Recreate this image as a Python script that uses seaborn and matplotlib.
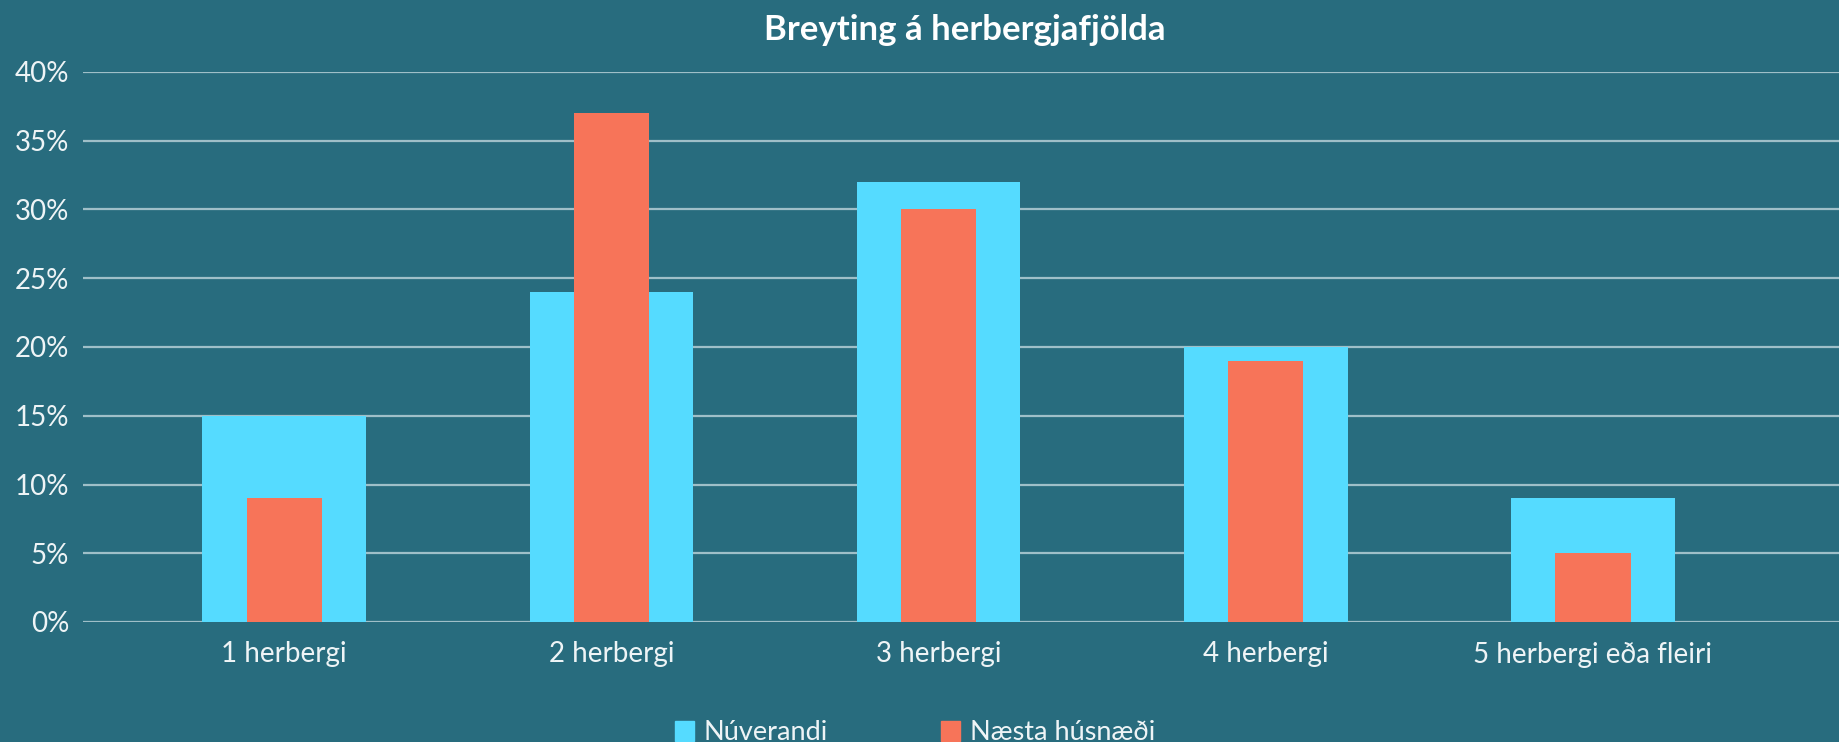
import matplotlib
matplotlib.use("Agg")
import matplotlib.pyplot as plt
import matplotlib.patches as mpatches
import pandas as pd
import seaborn as sns

# data
categories = ["1 herbergi", "2 herbergi", "3 herbergi", "4 herbergi", "5 herbergi eða fleiri"]
nuverandi = [15, 24, 32, 20, 9]
naesta = [9, 37, 30, 19, 5]
y_ticks = [0, 5, 10, 15, 20, 25, 30, 35, 40]

BG = "#286c7e"
CYAN = "#55dbff"
ORANGE = "#f77459"
GRID = "#9fbfc8"
TXT = "#eef4f6"

sns.set_theme(style="white")
plt.rcParams["font.family"] = ["Lato", "DejaVu Sans"]

df_now = pd.DataFrame({"cat": categories, "val": nuverandi})
df_next = pd.DataFrame({"cat": categories, "val": naesta})

fig = plt.figure(figsize=(18.4, 7.42), dpi=100, facecolor=BG)
ax = fig.add_axes([83 / 1840, 120 / 742, 1 - 83 / 1840, 550 / 742])
ax.set_facecolor(BG)

sns.barplot(data=df_now, x="cat", y="val", color=CYAN, width=0.5,
            saturation=1, linewidth=0, ax=ax, zorder=2)
sns.barplot(data=df_next, x="cat", y="val", color=ORANGE, width=0.23,
            saturation=1, linewidth=0, ax=ax, zorder=3)

ax.set_xlim(-0.615, 4.755)
ax.set_ylim(0, 40)
ax.set_yticks(y_ticks)
ax.set_yticklabels([f"{t}%" for t in y_ticks])
ax.yaxis.grid(True, color=GRID, linewidth=1.6, zorder=1)
ax.set_axisbelow(True)
for s in ax.spines.values():
    s.set_visible(False)
ax.tick_params(axis="both", length=0, colors=TXT)
ax.tick_params(axis="y", pad=10, labelsize=20)
ax.tick_params(axis="x", pad=14, labelsize=20)
ax.set_xlabel("")
ax.set_ylabel("")

fig.text(965 / 1840, 1 - 30 / 742, "Breyting á herbergjafjölda", ha="center",
         va="center", color="white", fontsize=25, fontweight="bold")

handles = [mpatches.Patch(color=CYAN, label="Núverandi"),
           mpatches.Patch(color=ORANGE, label="Næsta húsnæði")]
fig.legend(handles=handles, loc="center", bbox_to_anchor=(915 / 1840, 1 - 733 / 742),
           ncol=2, frameon=False, fontsize=19.5, labelcolor=TXT, handlelength=0.7,
           handleheight=0.8, handletextpad=0.35, columnspacing=4.2)

fig.savefig("out.png", dpi=100, facecolor=BG)
